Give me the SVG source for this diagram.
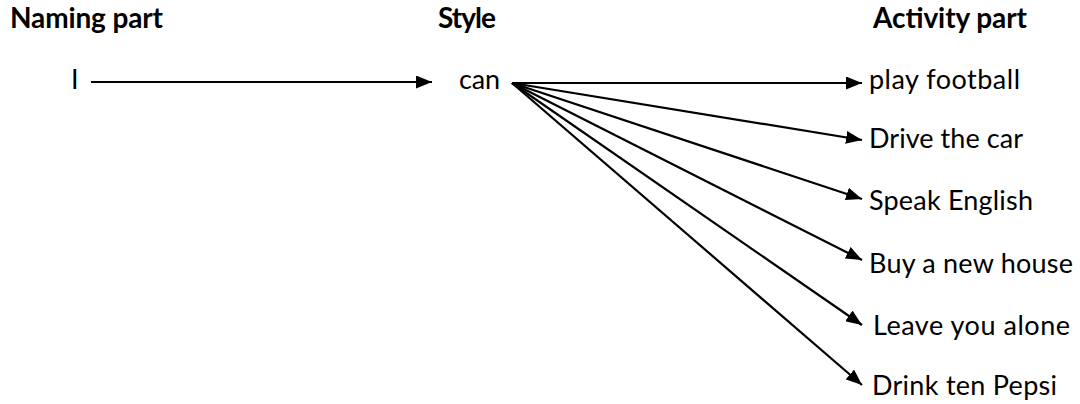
<svg xmlns="http://www.w3.org/2000/svg" width="1080" height="404" viewBox="0 0 1080 404">
<style>
.h{font-family:Lato,"Liberation Sans",sans-serif;font-weight:bold;font-size:28px;fill:#000}
.t{font-family:Lato,"Liberation Sans",sans-serif;font-size:27px;fill:#000}
.c{stroke:#000;stroke-width:2.2;fill:none;marker-end:url(#ah)}
</style>
<defs>
<marker id="ah" markerUnits="userSpaceOnUse" viewBox="0 0 16 13" refX="16" refY="6.5" markerWidth="16" markerHeight="13" orient="auto">
<path d="M0,0 L16,6.5 L0,13 Z" fill="#000"/>
</marker>
</defs>
<rect width="1080" height="404" fill="#fff"/>
<g id="headers">
<text class="h" x="10" y="28" textLength="153">Naming part</text>
<text class="h" x="438" y="28" textLength="58">Style</text>
<text class="h" x="873" y="28" textLength="154">Activity part</text>
</g>
<g id="node-I"><text class="t" x="71" y="89">I</text></g>
<g id="node-can"><text class="t" x="459" y="89" textLength="41">can</text></g>
<g id="node-play"><text class="t" x="869" y="89" textLength="151">play football</text></g>
<g id="node-drive"><text class="t" x="869" y="148" textLength="154">Drive the car</text></g>
<g id="node-speak"><text class="t" x="869" y="210" textLength="164">Speak English</text></g>
<g id="node-buy"><text class="t" x="869" y="273" textLength="204">Buy a new house</text></g>
<g id="node-leave"><text class="t" x="873" y="335" textLength="197">Leave you alone</text></g>
<g id="node-drink"><text class="t" x="872" y="395" textLength="185">Drink ten Pepsi</text></g>
<g id="connectors">
<line class="c" x1="91" y1="82" x2="432" y2="82"/>
<line class="c" x1="512" y1="83" x2="862" y2="83"/>
<line class="c" x1="512" y1="83" x2="862" y2="140"/>
<line class="c" x1="512" y1="83" x2="862" y2="199"/>
<line class="c" x1="512" y1="83" x2="862" y2="260"/>
<line class="c" x1="512" y1="83" x2="862" y2="325"/>
<line class="c" x1="512" y1="83" x2="862" y2="385"/>
</g>
</svg>
